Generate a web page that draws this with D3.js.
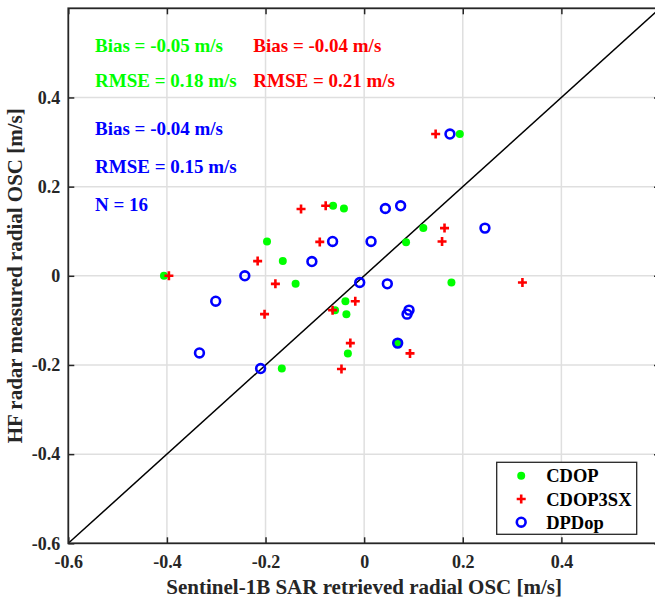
<!DOCTYPE html>
<html lang="en">
<head>
    <meta charset="UTF-8">
    <title>SAR vs HF radar radial OSC</title>
    <script src="https://d3js.org/d3.v7.min.js" charset="utf-8"></script>
    <style>
        body {
            margin: 0;
            background: white;
        }
        svg {
            background: white;
            font-family: 'Liberation Serif', 'Times New Roman', serif;
            font-weight: bold;
        }
    </style>
</head>
<body>
    <div id="scatter"></div>
    <script>
        var svgwidth = 655;
        var svgheight = 600;

        // plot box (right edge runs slightly past the picture, as in the original)
        var boxLeft = 68.3, boxTop = 8.3, boxRight = 660, boxBottom = 543.3;

        // values (m/s)
        var cdopX = [-0.063, -0.041, -0.197, -0.165, -0.406, -0.139, -0.059, -0.167,
                     0.194, 0.120, 0.085, 0.177, -0.038, -0.036, 0.068, -0.033];
        var cdopY = [0.157, 0.151, 0.077, 0.033, 0.000, -0.018, -0.077, -0.208,
                     0.318, 0.107, 0.075, -0.015, -0.057, -0.086, -0.151, -0.174];

        var cdop3sxX = [-0.128, -0.078, -0.090, -0.216, -0.396, -0.180, -0.202, -0.064,
                        0.145, 0.163, 0.158, 0.321, -0.018, -0.028, 0.093, -0.046];
        var cdop3sxY = [0.150, 0.157, 0.076, 0.033, 0.000, -0.018, -0.086, -0.077,
                        0.318, 0.107, 0.077, -0.015, -0.057, -0.151, -0.174, -0.209];

        var dpdopX = [-0.064, -0.106, -0.242, -0.301, -0.334, -0.210, 0.174, 0.043,
                      0.074, 0.014, 0.245, -0.009, 0.047, 0.091, 0.087, 0.068];
        var dpdopY = [0.077, 0.032, 0.000, -0.057, -0.173, -0.208, 0.318, 0.151,
                      0.157, 0.077, 0.107, -0.015, -0.018, -0.077, -0.086, -0.151];

        var xTicks = [-0.6, -0.4, -0.2, 0, 0.2, 0.4];
        var yTicks = [-0.6, -0.4, -0.2, 0, 0.2, 0.4];
        var gridTicks = [-0.4, -0.2, 0, 0.2, 0.4];

        var seriesNames = ['CDOP', 'CDOP3SX', 'DPDop'];
        var seriesColors = ['#00ff00', '#ff0000', '#0000ff'];
        var biasText = ['Bias = -0.05 m/s', 'Bias = -0.04 m/s', 'Bias = -0.04 m/s'];
        var rmseText = ['RMSE = 0.18 m/s', 'RMSE = 0.21 m/s', 'RMSE = 0.15 m/s'];
        var countText = 'N = 16';

        var svg = d3.select('#scatter').append('svg')
            .attr('width', svgwidth)
            .attr('height', svgheight);

        var x = d3.scaleLinear().domain([-0.6, 0.6]).range([boxLeft, boxRight]);
        var y = d3.scaleLinear().domain([-0.6, 0.6]).range([boxBottom, boxTop]);

        var tickFmt = d => d === 0 ? '0' : d.toFixed(1);

        // grid lines
        var grid = svg.append('g').attr('stroke', '#dfdfdf').attr('stroke-width', 1.5);
        grid.selectAll('.gx').data(gridTicks).enter().append('line')
            .attr('x1', d => x(d)).attr('x2', d => x(d))
            .attr('y1', boxTop).attr('y2', boxBottom);
        grid.selectAll('.gy').data(gridTicks).enter().append('line')
            .attr('y1', d => y(d)).attr('y2', d => y(d))
            .attr('x1', boxLeft).attr('x2', boxRight);

        // 1:1 line
        var line = d3.line().x(d => x(d)).y(d => y(d));
        svg.append('path')
            .datum([-0.6, 0.6])
            .attr('d', line)
            .attr('fill', 'none')
            .attr('stroke', 'black')
            .attr('stroke-width', 1.5);

        // axes, ticks pointing inward like matlab
        function styleAxis(g) {
            g.select('.domain').remove();
            g.selectAll('.tick line').attr('stroke', '#262626').attr('stroke-width', 1.5);
            g.selectAll('.tick text')
                .attr('fill', '#262626')
                .style('font-family', "'Liberation Serif', 'Times New Roman', serif")
                .style('font-weight', 'bold')
                .style('font-size', '18px');
        }

        svg.append('g')
            .attr('transform', 'translate(0,' + boxBottom + ')')
            .call(d3.axisBottom(x).tickValues(xTicks).tickFormat(tickFmt)
                .tickSizeInner(-6).tickSizeOuter(0).tickPadding(12))
            .call(styleAxis);

        svg.append('g')
            .attr('transform', 'translate(' + boxLeft + ',0)')
            .call(d3.axisLeft(y).tickValues(yTicks).tickFormat(tickFmt)
                .tickSizeInner(-6).tickSizeOuter(0).tickPadding(8))
            .call(styleAxis);

        // top and right ticks (no labels)
        svg.append('g')
            .attr('transform', 'translate(0,' + boxTop + ')')
            .call(d3.axisTop(x).tickValues(xTicks).tickFormat('')
                .tickSizeInner(-6).tickSizeOuter(0))
            .call(styleAxis);

        svg.append('g')
            .attr('transform', 'translate(' + boxRight + ',0)')
            .call(d3.axisRight(y).tickValues(yTicks).tickFormat('')
                .tickSizeInner(-6).tickSizeOuter(0))
            .call(styleAxis);

        // box
        svg.append('rect')
            .attr('x', boxLeft)
            .attr('y', boxTop)
            .attr('width', boxRight - boxLeft)
            .attr('height', boxBottom - boxTop)
            .attr('fill', 'none')
            .attr('stroke', '#262626')
            .attr('stroke-width', 1.8);

        // markers
        function zip(xs, ys) { return xs.map((v, i) => [v, ys[i]]); }

        svg.append('g').selectAll('circle')
            .data(zip(cdopX, cdopY))
            .enter().append('circle')
            .attr('cx', d => x(d[0]))
            .attr('cy', d => y(d[1]))
            .attr('r', 4)
            .attr('fill', seriesColors[0]);

        var plus = 'M-4.5,0H4.5M0,-4.5V4.5';
        svg.append('g').selectAll('path')
            .data(zip(cdop3sxX, cdop3sxY))
            .enter().append('path')
            .attr('transform', d => 'translate(' + x(d[0]) + ',' + y(d[1]) + ')')
            .attr('d', plus)
            .attr('stroke', seriesColors[1])
            .attr('stroke-width', 2.6);

        svg.append('g').selectAll('circle')
            .data(zip(dpdopX, dpdopY))
            .enter().append('circle')
            .attr('cx', d => x(d[0]))
            .attr('cy', d => y(d[1]))
            .attr('r', 4.4)
            .attr('fill', 'none')
            .attr('stroke', seriesColors[2])
            .attr('stroke-width', 2.6);

        // statistics text
        var stats = svg.append('g').style('font-size', '19px');
        var statX = [95, 253.3, 95];
        var biasY = [52, 52, 135];
        var rmseY = [86.7, 86.7, 173.3];
        seriesNames.forEach(function(name, i) {
            stats.append('text').attr('x', statX[i]).attr('y', biasY[i])
                .attr('fill', seriesColors[i]).text(biasText[i]);
            stats.append('text').attr('x', statX[i]).attr('y', rmseY[i])
                .attr('fill', seriesColors[i]).text(rmseText[i]);
        });
        stats.append('text').attr('x', 95).attr('y', 210.7)
            .attr('fill', seriesColors[2]).text(countText);

        // axis titles
        svg.append('text')
            .attr('x', (boxLeft + 660) / 2)
            .attr('y', 594)
            .attr('text-anchor', 'middle')
            .attr('fill', '#262626')
            .style('font-size', '21px')
            .text('Sentinel-1B SAR retrieved radial OSC [m/s]');

        svg.append('text')
            .attr('transform', 'translate(22,' + (boxTop + boxBottom) / 2 + ') rotate(-90)')
            .attr('text-anchor', 'middle')
            .attr('fill', '#262626')
            .style('font-size', '21px')
            .text('HF radar measured radial OSC [m/s]');

        // legend
        var legend = svg.append('g').attr('transform', 'translate(496.7,462.3)');
        legend.append('rect')
            .attr('width', 140)
            .attr('height', 72)
            .attr('fill', 'white')
            .attr('stroke', '#262626')
            .attr('stroke-width', 1.3);

        var rows = legend.selectAll('.row')
            .data(seriesNames)
            .enter().append('g')
            .attr('class', 'row')
            .attr('transform', (d, i) => 'translate(0,' + (13.5 + i * 23.2) + ')');

        rows.filter((d, i) => i === 0).append('circle')
            .attr('cx', 24.5).attr('r', 4).attr('fill', seriesColors[0]);
        rows.filter((d, i) => i === 1).append('path')
            .attr('transform', 'translate(24.5,0)')
            .attr('d', plus).attr('stroke', seriesColors[1]).attr('stroke-width', 2.6);
        rows.filter((d, i) => i === 2).append('circle')
            .attr('cx', 24.5).attr('r', 4.4).attr('fill', 'none')
            .attr('stroke', seriesColors[2]).attr('stroke-width', 2.6);

        rows.append('text')
            .attr('x', 49.5)
            .attr('y', 6.5)
            .attr('fill', 'black')
            .style('font-size', '18.5px')
            .text(d => d);
    </script>
</body>
</html>
